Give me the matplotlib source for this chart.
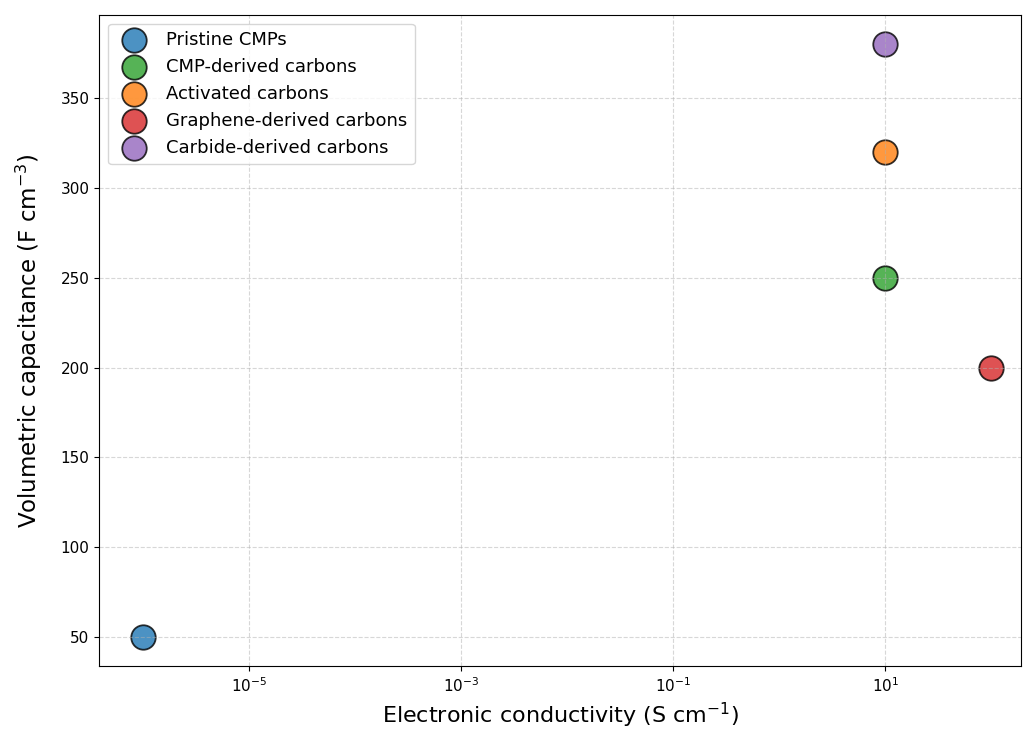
import matplotlib
matplotlib.use("Agg")
import matplotlib.pyplot as plt

materials = ["Pristine CMPs", "CMP-derived carbons", "Activated carbons",
             "Graphene-derived carbons", "Carbide-derived carbons"]
conductivity = [1e-6, 10, 10, 100, 10]
capacitance = [50, 250, 320, 200, 380]
colors = ["#1f77b4", "#2ca02c", "#ff7f0e", "#d62728", "#9467bd"]
xticks = [1e-5, 1e-3, 1e-1, 1e1]

fig, ax = plt.subplots(figsize=(10.23, 7.38), dpi=100)

for name, x, y, c in zip(materials, conductivity, capacitance, colors):
    ax.scatter(x, y, s=310, color=c, alpha=0.8, edgecolors="black",
               linewidths=1.3, label=name)

ax.set_xscale("log")
ax.set_xticks(xticks)
ax.minorticks_off()
ax.set_xlim(3.9e-7, 1.9e2)
ax.set_xlabel("Electronic conductivity (S cm$^{-1}$)", fontsize=16)
ax.set_ylabel("Volumetric capacitance (F cm$^{-3}$)", fontsize=16.5, labelpad=12)
ax.tick_params(labelsize=11)
ax.grid(True, linestyle="--", alpha=0.5)
ax.legend(loc="upper left", fontsize=13)

fig.subplots_adjust(left=0.097, right=0.998, top=0.98, bottom=0.097)
fig.savefig("out.png")
